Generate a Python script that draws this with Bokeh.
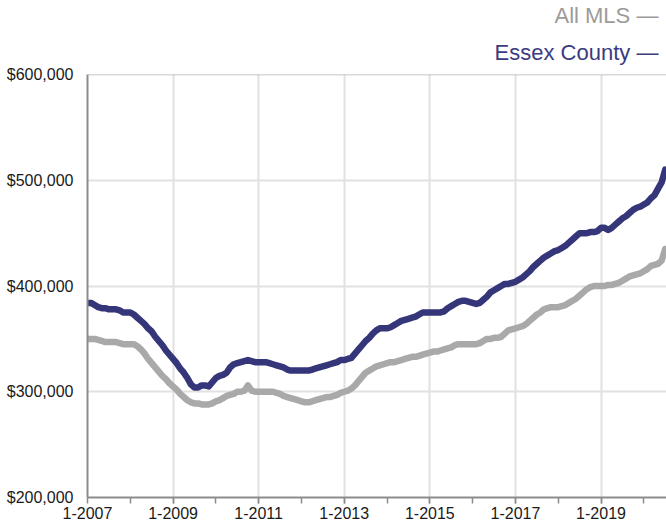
from bokeh.plotting import figure
from bokeh.models import Range1d, FixedTicker, Span, Title
from bokeh.embed import file_html
from bokeh.resources import INLINE

# ---- data (monthly median price, thousands of $) ----
years = list(range(2007, 2021))
series_names = ["All MLS", "Essex County"]

all_mls = [
    350, 350, 350, 349, 348, 347, 347, 347, 347, 346, 345, 345,  # 2007
    345, 345, 343, 340, 336, 331, 327, 323, 319, 315, 312, 308,  # 2008
    305, 302, 298, 295, 292, 290, 289, 289, 288, 288, 288, 289,  # 2009
    291, 292, 294, 296, 297, 298, 300, 300, 301, 306, 301, 300,  # 2010
    300, 300, 300, 300, 300, 299, 298, 296, 295, 294, 293, 292,  # 2011
    291, 290, 290, 291, 292, 293, 294, 295, 295, 296, 297, 299,  # 2012
    300, 301, 303, 306, 310, 314, 318, 320, 322, 324, 325, 326,  # 2013
    327, 328, 328, 329, 330, 331, 332, 333, 333, 334, 335, 336,  # 2014
    337, 338, 338, 339, 340, 341, 342, 344, 345, 345, 345, 345,  # 2015
    345, 345, 346, 348, 350, 350, 351, 351, 352, 355, 358, 359,  # 2016
    360, 361, 362, 364, 367, 370, 373, 375, 378, 379, 380, 380,  # 2017
    380, 381, 382, 384, 386, 388, 391, 394, 397, 399, 400, 400,  # 2018
    400, 400, 401, 401, 402, 403, 405, 407, 409, 410, 411, 412,  # 2019
    414, 416, 419, 420, 421, 424, 435,                           # 2020
]

essex = [
    384, 384, 382, 380, 379, 379, 378, 378, 378, 377, 375, 375,  # 2007
    375, 373, 370, 367, 364, 360, 357, 352, 348, 344, 339, 335,  # 2008
    331, 327, 322, 318, 313, 307, 304, 304, 306, 306, 305, 309,  # 2009
    313, 315, 316, 318, 323, 326, 327, 328, 329, 330, 329, 328,  # 2010
    328, 328, 328, 327, 326, 325, 324, 323, 321, 320, 320, 320,  # 2011
    320, 320, 320, 321, 322, 323, 324, 325, 326, 327, 328, 330,  # 2012
    330, 331, 332, 336, 340, 344, 348, 351, 355, 358, 360, 360,  # 2013
    360, 361, 363, 365, 367, 368, 369, 370, 371, 373, 375, 375,  # 2014
    375, 375, 375, 375, 376, 379, 381, 383, 385, 386, 386, 385,  # 2015
    384, 383, 384, 387, 390, 394, 396, 398, 400, 402, 402, 403,  # 2016
    404, 406, 408, 411, 414, 418, 421, 424, 427, 429, 431, 433,  # 2017
    434, 436, 438, 441, 444, 447, 450, 450, 450, 451, 451, 452,  # 2018
    455, 455, 453, 455, 458, 461, 464, 466, 469, 472, 474, 475,  # 2019
    477, 479, 483, 486, 492, 498, 510,                           # 2020
]

x_tick_years = [2007, 2009, 2011, 2013, 2015, 2017, 2019]
x_tick_labels = ["1-2007", "1-2009", "1-2011", "1-2013", "1-2015", "1-2017", "1-2019"]
y_ticks = [200000, 300000, 400000, 500000, 600000]
y_tick_labels = ["$200,000", "$300,000", "$400,000", "$500,000", "$600,000"]

# ---- derived ----
def month_x(i):
    return years[0] + i / 12.0

x_mls = [month_x(i) for i in range(len(all_mls))]
x_essex = [month_x(i) for i in range(len(essex))]
y_mls = [v * 1000 for v in all_mls]
y_essex = [v * 1000 for v in essex]

GRAY = "#a9a9a9"
NAVY = "#35357a"
FONT = "Liberation Sans"

X_END = 2020.53
p = figure(width=666, height=527, output_backend="svg", toolbar_location=None,
           x_range=Range1d(2007, X_END), y_range=Range1d(200000, 600000),
           min_border_left=87, min_border_right=0, min_border_top=74, min_border_bottom=30)
p.outline_line_color = None
p.background_fill_color = "white"
p.border_fill_color = "white"

# grids
p.xgrid.ticker = FixedTicker(ticks=x_tick_years[1:])
p.ygrid.ticker = FixedTicker(ticks=y_ticks[1:-1])
p.grid.grid_line_color = "#e1e1e1"
p.grid.grid_line_width = 2
p.add_layout(Span(location=600000, dimension="width", line_color="#b3b3b3", line_width=1.5))

# x axis
xa = p.xaxis[0]
xa.ticker = FixedTicker(ticks=x_tick_years, minor_ticks=list(range(2008, 2021)))
xa.major_label_overrides = {t: l for t, l in zip(x_tick_years, x_tick_labels)}
xa.axis_line_color = "#8c8c8c"
xa.axis_line_width = 2
xa.major_tick_line_color = "#8c8c8c"
xa.minor_tick_line_color = "#8c8c8c"
xa.major_tick_line_width = 1.5
xa.minor_tick_line_width = 1.5
xa.major_tick_in = 0
xa.major_tick_out = 6
xa.minor_tick_in = 0
xa.minor_tick_out = 6
xa.major_label_standoff = 3
xa.major_label_text_font = FONT
xa.major_label_text_font_size = "16px"
xa.major_label_text_color = "#1a1a1a"

# y axis
ya = p.yaxis[0]
ya.ticker = FixedTicker(ticks=y_ticks)
ya.major_label_overrides = {t: l for t, l in zip(y_ticks, y_tick_labels)}
ya.axis_line_color = "#8c8c8c"
ya.axis_line_width = 2
ya.major_tick_out = 0
ya.major_tick_in = 0
ya.minor_tick_out = 0
ya.minor_tick_in = 0
ya.major_label_standoff = 14
ya.major_label_text_font = FONT
ya.major_label_text_font_size = "16px"
ya.major_label_text_color = "#1a1a1a"

# lines
p.line(x_mls, y_mls, line_color=GRAY, line_width=6.5, line_join="round", line_cap="round")
p.line(x_essex, y_essex, line_color=NAVY, line_width=6.5, line_join="round", line_cap="round")

# legend as right-aligned titles above the frame (later added sits higher)
for name, col, so in [(series_names[1], "#3b3b80", 19), (series_names[0], "#9b9b9b", 1)]:
    p.add_layout(Title(text=name + "  \u2014", align="right", text_font=FONT,
                       text_font_size="22px", text_font_style="normal",
                       text_color=col, offset=2, standoff=so), "above")

open("out.html", "w").write(file_html(p, INLINE))
